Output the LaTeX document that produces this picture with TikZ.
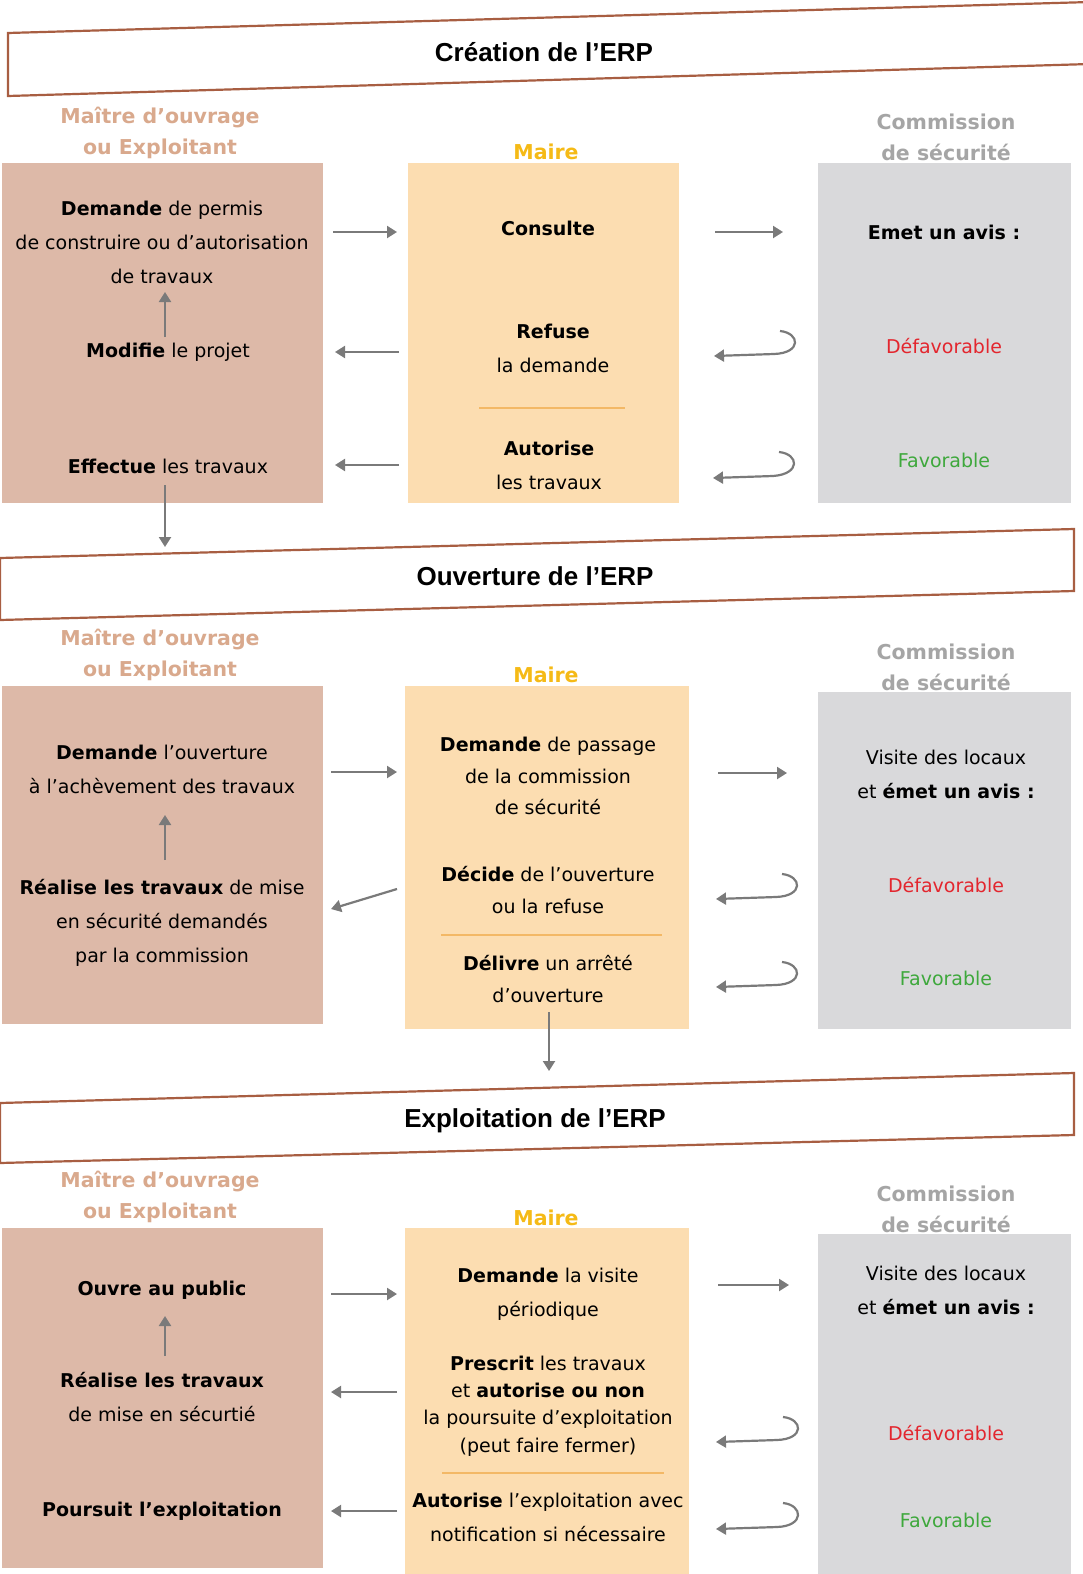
\documentclass[tikz,border=0pt]{standalone}
\usepackage{fontspec}
\setmainfont{DejaVu Sans}
\newfontfamily\ttlfont{Liberation Sans}
\usetikzlibrary{arrows.meta}
\definecolor{mobox}{HTML}{DDB9A8}
\definecolor{mabox}{HTML}{FCDDB1}
\definecolor{cobox}{HTML}{D9D9DB}
\definecolor{mohead}{HTML}{D9A98D}
\definecolor{mahead}{HTML}{F5BA16}
\definecolor{cohead}{HTML}{A5A5A5}
\definecolor{banbrd}{HTML}{A85E42}
\definecolor{sepcol}{HTML}{F3B866}
\definecolor{arcol}{HTML}{7A7A7A}
\definecolor{redt}{HTML}{E3262E}
\definecolor{grnt}{HTML}{3EA83C}
\begin{document}
\begin{tikzpicture}[x=1pt,y=-1pt,
  box/.style={inner sep=0pt, outer sep=0pt, anchor=north west},
  txt/.style={align=center, inner sep=0pt, text=black, font=\fontsize{19}{34}\selectfont},
  hdr/.style={align=center, inner sep=0pt, font=\fontsize{20.5}{31}\bfseries\selectfont},
  ttl/.style={inner sep=0pt, font=\ttlfont\fontsize{26}{30}\bfseries\selectfont},
  banner/.style={draw=banbrd, line width=2.2pt, fill=white},
  arr/.style={draw=arcol, line width=2.2pt, -{Triangle[length=10pt,width=12pt]}},
  sep/.style={draw=sepcol, line width=1.6pt}]
\useasboundingbox (0,0) rectangle (1082,1574);

% ---------------- Section 1 ----------------
\draw[banner] (8,33) -- (1090,2) -- (1090,64) -- (8,96) -- cycle;
\node[ttl] (t1) at (544,52) {Création de l’ERP};

\node[hdr, text=mohead] (h1a) at (160,132.5) {Maître d’ouvrage\\ou Exploitant};
\node[hdr, text=mahead] (h1b) at (546,152) {Maire};
\node[hdr, text=cohead] (h1c) at (946,137.5) {Commission\\de sécurité};

\node[box, fill=mobox, minimum width=321, minimum height=340] (L1) at (2,163) {};
\node[box, fill=mabox, minimum width=271, minimum height=340] (M1) at (408,163) {};
\node[box, fill=cobox, minimum width=253, minimum height=340] (R1) at (818,163) {};

\node[txt] (a1) at (162,242) {\textbf{Demande} de permis\\de construire ou d’autorisation\\de travaux};
\node[txt] (a2) at (168,352) {\textbf{Modifie} le projet};
\node[txt] (a3) at (168,466) {\textbf{Effectue} les travaux};
\node[txt] (b1) at (548,228) {\textbf{Consulte}};
\node[txt] (b2) at (553,348) {\textbf{Refuse}\\la demande};
\node[txt] (b3) at (549,465) {\textbf{Autorise}\\les travaux};
\node[txt] (c1) at (944,232) {\textbf{Emet un avis :}};
\node[txt, text=redt] (c2) at (944,346) {Défavorable};
\node[txt, text=grnt] (c3) at (944,460) {Favorable};

\draw[sep] (479,408) -- (625,408);

\coordinate (p1a) at (333,232); \coordinate (p1b) at (397,232);
\coordinate (p2a) at (715,232); \coordinate (p2b) at (783,232);
\coordinate (p3a) at (399,352); \coordinate (p3b) at (335,352);
\coordinate (p4a) at (399,465); \coordinate (p4b) at (335,465);
\coordinate (p5a) at (165,337); \coordinate (p5b) at (165,292);
\coordinate (p6a) at (165,485); \coordinate (p6b) at (165,547);
\draw[arr] (p1a) -- (p1b);
\draw[arr] (p2a) -- (p2b);
\draw[arr] (p3a) -- (p3b);
\draw[arr] (p4a) -- (p4b);
\draw[arr] (p5a) -- (p5b);
\draw[arr] (p6a) -- (p6b);
\coordinate (q1s) at (780,331); \coordinate (q1m) at (774,354); \coordinate (q1e) at (714,356);
\draw[arr] (q1s) .. controls (800,333) and (802,353) .. (q1m) -- (q1e);
\coordinate (q2s) at (779,452); \coordinate (q2m) at (773,476); \coordinate (q2e) at (713,478);
\draw[arr] (q2s) .. controls (799,454) and (801,474) .. (q2m) -- (q2e);

% ---------------- Section 2 ----------------
\draw[banner] (0,558) -- (1074,529) -- (1074,591) -- (0,620) -- cycle;
\node[ttl] (t2) at (535,576) {Ouverture de l’ERP};

\node[hdr, text=mohead] (h2a) at (160,654.5) {Maître d’ouvrage\\ou Exploitant};
\node[hdr, text=mahead] (h2b) at (546,675) {Maire};
\node[hdr, text=cohead] (h2c) at (946,667) {Commission\\de sécurité};

\node[box, fill=mobox, minimum width=321, minimum height=338] (L2) at (2,686) {};
\node[box, fill=mabox, minimum width=284, minimum height=343] (M2) at (405,686) {};
\node[box, fill=cobox, minimum width=253, minimum height=337] (R2) at (818,692) {};

\node[txt] (d1) at (162,769) {\textbf{Demande} l’ouverture\\à l’achèvement des travaux};
\node[txt] (d2) at (162,923) {\textbf{Réalise les travaux} de mise\\en sécurité demandés\\par la commission};
\node[txt, font=\fontsize{19}{31.5}\selectfont] (e1) at (548,776) {\textbf{Demande} de passage\\de la commission\\de sécurité};
\node[txt, font=\fontsize{19}{32}\selectfont] (e2) at (548,890) {\textbf{Décide} de l’ouverture\\ou la refuse};
\node[txt, font=\fontsize{19}{32}\selectfont] (e3) at (548,979) {\textbf{Délivre} un arrêté\\d’ouverture};
\node[txt] (f1) at (946,774) {Visite des locaux\\et \textbf{émet un avis :}};
\node[txt, text=redt] (f2) at (946,885) {Défavorable};
\node[txt, text=grnt] (f3) at (946,978) {Favorable};

\draw[sep] (441,935) -- (662,935);

\coordinate (r1a) at (331,772); \coordinate (r1b) at (397,772);
\coordinate (r2a) at (718,773); \coordinate (r2b) at (787,773);
\coordinate (r3a) at (397,889); \coordinate (r3b) at (331,909);
\coordinate (r4a) at (165,860); \coordinate (r4b) at (165,815);
\coordinate (r5a) at (549,1012); \coordinate (r5b) at (549,1071);
\draw[arr] (r1a) -- (r1b);
\draw[arr] (r2a) -- (r2b);
\draw[arr] (r3a) -- (r3b);
\draw[arr] (r4a) -- (r4b);
\draw[arr] (r5a) -- (r5b);
\coordinate (s1s) at (782,874); \coordinate (s1m) at (776,897); \coordinate (s1e) at (716,899);
\draw[arr] (s1s) .. controls (802,876) and (804,896) .. (s1m) -- (s1e);
\coordinate (s2s) at (782,962); \coordinate (s2m) at (776,985); \coordinate (s2e) at (716,987);
\draw[arr] (s2s) .. controls (802,964) and (804,984) .. (s2m) -- (s2e);

% ---------------- Section 3 ----------------
\draw[banner] (0,1103) -- (1074,1073) -- (1074,1135) -- (0,1163) -- cycle;
\node[ttl] (t3) at (535,1121) {Exploitation de l’ERP};

\node[hdr, text=mohead] (h3a) at (160,1196.5) {Maître d’ouvrage\\ou Exploitant};
\node[hdr, text=mahead] (h3b) at (546,1218) {Maire};
\node[hdr, text=cohead] (h3c) at (946,1209) {Commission\\de sécurité};

\node[box, fill=mobox, minimum width=321, minimum height=340] (L3) at (2,1228) {};
\node[box, fill=mabox, minimum width=284, minimum height=346] (M3) at (405,1228) {};
\node[box, fill=cobox, minimum width=253, minimum height=340] (R3) at (818,1234) {};

\node[txt] (g1) at (162,1290) {\textbf{Ouvre au public}};
\node[txt] (g2) at (162,1397) {\textbf{Réalise les travaux}\\de mise en sécurtié};
\node[txt] (g3) at (162,1511) {\textbf{Poursuit l’exploitation}};
\node[txt] (k1) at (548,1294) {\textbf{Demande} la visite\\périodique};
\node[txt, font=\fontsize{19}{27.3}\selectfont] (k2) at (548,1406) {\textbf{Prescrit} les travaux\\et \textbf{autorise ou non}\\la poursuite d’exploitation\\(peut faire fermer)};
\node[txt] (k3) at (548,1517) {\textbf{Autorise} l’exploitation avec\\notification si nécessaire};
\node[txt] (m1) at (946,1290) {Visite des locaux\\et \textbf{émet un avis :}};
\node[txt, text=redt] (m2) at (946,1433) {Défavorable};
\node[txt, text=grnt] (m3) at (946,1520) {Favorable};

\draw[sep] (442,1473) -- (664,1473);

\coordinate (u1a) at (331,1294); \coordinate (u1b) at (397,1294);
\coordinate (u2a) at (718,1285); \coordinate (u2b) at (789,1285);
\coordinate (u3a) at (397,1392); \coordinate (u3b) at (331,1392);
\coordinate (u4a) at (397,1511); \coordinate (u4b) at (331,1511);
\coordinate (u5a) at (165,1356); \coordinate (u5b) at (165,1316);
\draw[arr] (u1a) -- (u1b);
\draw[arr] (u2a) -- (u2b);
\draw[arr] (u3a) -- (u3b);
\draw[arr] (u4a) -- (u4b);
\draw[arr] (u5a) -- (u5b);
\coordinate (v1s) at (783,1417); \coordinate (v1m) at (777,1440); \coordinate (v1e) at (716,1442);
\draw[arr] (v1s) .. controls (803,1419) and (805,1439) .. (v1m) -- (v1e);
\coordinate (v2s) at (783,1503); \coordinate (v2m) at (777,1527); \coordinate (v2e) at (716,1529);
\draw[arr] (v2s) .. controls (803,1505) and (805,1526) .. (v2m) -- (v2e);
\end{tikzpicture}
\end{document}
